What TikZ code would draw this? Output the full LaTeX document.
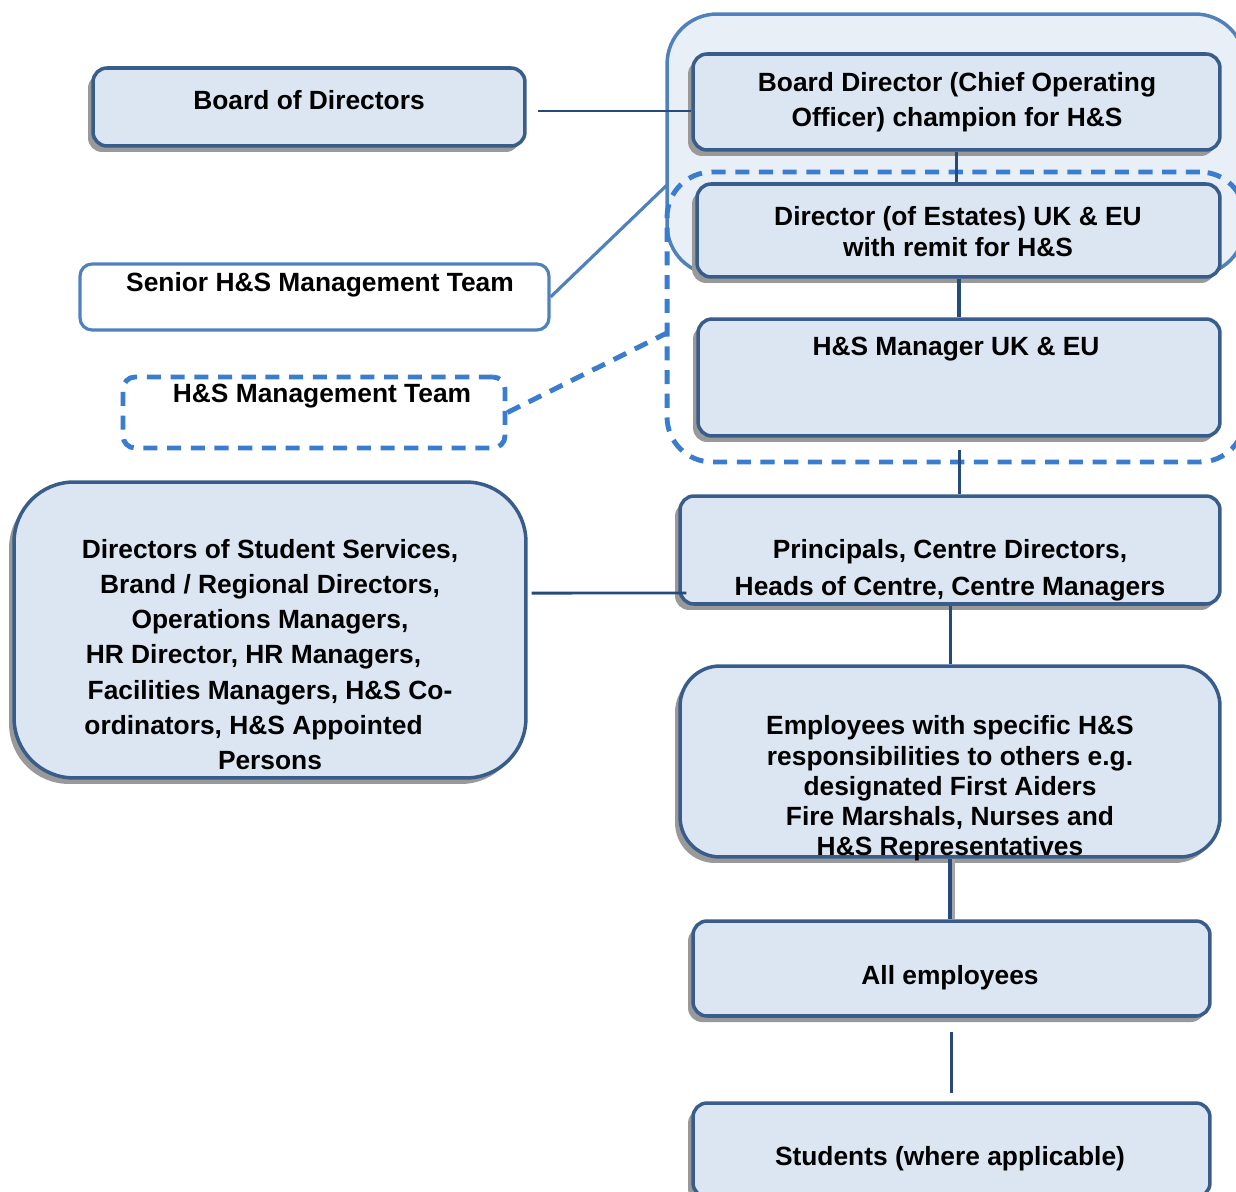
\documentclass[tikz,border=0pt]{standalone}
\usepackage{fontspec}
\setmainfont{Liberation Sans}
\usetikzlibrary{shadows}
\definecolor{boxfill}{HTML}{DCE6F2}
\definecolor{boxline}{HTML}{385D8A}
\definecolor{linkcol}{HTML}{264A7C}
\definecolor{frameline}{HTML}{4F81BD}
\definecolor{framefill}{HTML}{E9EFF7}
\definecolor{dashcol}{HTML}{3A7DD0}
\tikzset{
  orgbox/.style={draw=boxline,line width=2pt,fill=boxfill,rounded corners=0.28cm,inner sep=0pt,
    drop shadow={shadow xshift=-0.1cm,shadow yshift=-0.12cm,fill=black!40,opacity=1}},
  teambox/.style={draw=frameline,line width=1.8pt,fill=white,rounded corners=0.24cm,inner sep=0pt},
  boxtext/.style={font=\bfseries\fontsize{15}{#1}\selectfont,align=center,inner sep=0pt,yshift=-0.05cm},
  boxtext/.default=20,
  link/.style={draw=linkcol,line width=1.7pt},
}
\begin{document}
\begin{tikzpicture}[x=0.02cm,y=-0.02cm]
        \useasboundingbox (0,0) rectangle (1236,1192);
        \clip (0,0) rectangle (1236,1192);
        % group frames
        \node[draw=frameline,line width=2pt,fill=framefill,rounded corners=1cm,inner sep=0pt,
              minimum width=11.56cm,minimum height=5.22cm] (seniorgrp) at (956,144.5) {};
        \node[draw=dashcol,line width=2.8pt,dash pattern=on 8pt off 5.5pt,rounded corners=0.9cm,inner sep=0pt,
              minimum width=11.56cm,minimum height=5.8cm] (mgmtgrp) at (956,317) {};
        % left column
        \node[orgbox,minimum width=8.64cm,minimum height=1.56cm] (bod) at (309,107) {};
        \node[boxtext] (bodt) at (309,98) {Board of Directors};
        \node[teambox,minimum width=9.38cm,minimum height=1.32cm] (senior) at (314.5,297) {};
        \node[boxtext] (seniort) at (320,282) {Senior H\&S Management Team};
        \node[teambox,draw=dashcol,line width=2.8pt,dash pattern=on 8pt off 5.5pt,
              minimum width=7.64cm,minimum height=1.42cm] (hsteam) at (314,412.5) {};
        \node[boxtext] (hsteamt) at (322,394) {H\&S Management Team};
        \node[orgbox,rounded corners=1.2cm,minimum width=10.24cm,minimum height=5.92cm] (others) at (270,630) {};
        \node[boxtext=20] (otherst) at (270,652) {Directors of Student Services,\\
              Brand / Regional Directors,\\
              Operations Managers,\\
              HR Director, HR Managers,\hspace*{0.66cm}\mbox{}\\
              Facilities Managers, H\&S Co-\\
              ordinators, H\&S Appointed\hspace*{0.66cm}\mbox{}\\
              Persons};
        % right column
        \node[orgbox,minimum width=10.54cm,minimum height=1.92cm] (coo) at (956.5,102) {};
        \node[boxtext=19.9] (coot) at (957,100) {Board Director (Chief Operating\\Officer) champion for H\&S};
        \node[orgbox,minimum width=10.46cm,minimum height=1.86cm] (est) at (958.5,230.5) {};
        \node[boxtext=17.6] (estt) at (958,229) {Director (of Estates) UK \& EU\\with remit for H\&S};
        \node[orgbox,minimum width=10.44cm,minimum height=2.34cm] (mgr) at (959,377.5) {};
        \node[boxtext] (mgrt) at (956,347) {H\&S Manager UK \& EU};
        \node[orgbox,minimum width=10.8cm,minimum height=2.16cm] (prin) at (950,550) {};
        \node[boxtext=21] (print) at (950,568) {Principals, Centre Directors,\\Heads of Centre, Centre Managers};
        \node[orgbox,rounded corners=0.8cm,minimum width=10.8cm,minimum height=3.82cm] (emp) at (950,761.5) {};
        \node[boxtext=17.2] (empt) at (950,786) {Employees with specific H\&S\\
              responsibilities to others e.g.\\
              designated First Aiders\\
              Fire Marshals, Nurses and\\
              H\&S Representatives};
        \node[orgbox,minimum width=10.34cm,minimum height=1.9cm] (all) at (951.5,968.5) {};
        \node[boxtext] (allt) at (950,975) {All employees};
        \node[orgbox,minimum width=10.34cm,minimum height=1.88cm] (stud) at (951.5,1150) {};
        \node[boxtext] (studt) at (950,1156) {Students (where applicable)};
        % connectors
        \coordinate (sjoin) at (667,185);
        \coordinate (hjoin) at (667,333);
        \draw[link] ([xshift=0.22cm,yshift=-0.08cm]bod.east) coordinate (bj) -- (coo.west |- bj);
        \draw[link] (coo.south) -- (coo.south |- est.north);
        \draw[link,line width=2.2pt] (est.south -| mgr.north) -- (mgr.north);
        \draw[link] ([yshift=-0.24cm]mgr.south) -- (mgr.south |- prin.north);
        \draw[link] (prin.south) -- (emp.north);
        \draw[line width=2.8pt,black!35] ([xshift=0.06cm]emp.south) -- ([xshift=0.06cm]emp.south |- all.north);
        \draw[link,line width=2.6pt] (emp.south) -- (emp.south |- all.north);
        \draw[link] ([yshift=-0.28cm]all.south) -- ([yshift=0.16cm]all.south |- stud.north);
        \draw[link] ([xshift=0.08cm,yshift=0.74cm]others.east) -- ([xshift=0.16cm,yshift=-0.86cm]prin.west);
        \draw[draw=frameline,line width=1.8pt] (senior.east) -- (sjoin);
        \draw[draw=dashcol,line width=2.8pt,dash pattern=on 8pt off 5.5pt] (hsteam.east) -- (hjoin);
\end{tikzpicture}
\end{document}
